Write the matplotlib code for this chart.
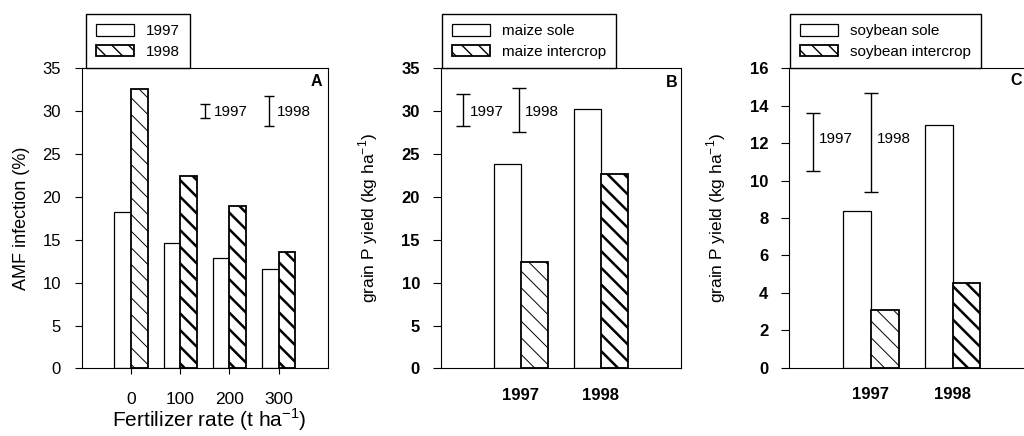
import numpy as np
import matplotlib.pyplot as plt

plt.rcParams['font.family'] = ['Liberation Sans', 'DejaVu Sans']
plt.rcParams['hatch.color'] = 'black'

# A: AMF infection vs fertilizer rate
rates = ['0', '100', '200', '300']
amf_1997 = [18.3, 14.6, 12.9, 11.6]
amf_1998 = [32.6, 22.4, 18.9, 13.6]
lsd_a = [1.7, 3.5]

# B: maize grain P yield
years = ['1997', '1998']
maize_sole = [23.9, 30.3]
maize_inter = [12.4, 22.7]
lsd_b = [3.8, 5.2]

# C: soybean grain P yield
soy_sole = [8.4, 13.0]
soy_inter = [3.1, 4.5]
lsd_c = [3.1, 5.3]

lsd_labels = ['1997', '1998']


def pair_bars(ax, v1, v2, lab1, lab2):
    x = np.arange(len(v1))
    w = 0.34
    ax.bar(x - w/2, v1, w, color='white', edgecolor='black', lw=0.9,
           label=lab1, zorder=2)
    bars = ax.bar(x + w/2, v2, w, color='white', edgecolor='black', lw=1.3,
                  hatch='\\\\', label=lab2, zorder=2)
    for i, b in enumerate(bars):
        if hasattr(b, 'set_hatch_linewidth'):
            b.set_hatch_linewidth(0.7 if i == 0 else 1.8)
    return x


def lsd(ax, xs, yc, vals, tx, ty, cap, fs=11):
    for x, v, t, lab in zip(xs, vals, tx, lsd_labels):
        ax.errorbar(x, yc, yerr=v/2, fmt='none', ecolor='black',
                    elinewidth=1, capsize=cap, capthick=1)
        ax.text(t, ty, lab, fontsize=fs, va='center', ha='left')


def legend(ax, x0, fs):
    ax.legend(loc='lower left', bbox_to_anchor=(x0, 1.0), fancybox=False,
              edgecolor='black', framealpha=1, fontsize=fs, handlelength=2.5,
              handleheight=0.75, borderaxespad=0, labelspacing=0.4,
              borderpad=0.65, handletextpad=0.8)


fig = plt.figure(figsize=(10.24, 4.36), dpi=100)

# ---------------- panel A
ax = fig.add_axes([0.080, 0.155, 0.240, 0.688])
x = pair_bars(ax, amf_1997, amf_1998, '1997', '1998')
ax.set_xlim(-1, 4)
ax.set_ylim(0, 35)
ax.set_yticks(np.arange(0, 36, 5))
ax.set_xticks(x)
ax.set_xticklabels(rates)
ax.tick_params(axis='x', length=4, pad=13, labelsize=12.5)
ax.tick_params(axis='y', length=5, pad=10, labelsize=12)
ax.set_ylabel('AMF infection (%)', fontsize=13)
ax.yaxis.set_label_coords(-0.21, 0.5)
ax.set_xlabel(r'Fertilizer rate (t ha$^{\mathregular{-1}}$)', fontsize=15)
ax.xaxis.set_label_coords(0.52, -0.125)
ax.text(0.955, 0.955, 'A', transform=ax.transAxes, fontsize=11.5,
        fontweight='bold', ha='center', va='center')
lsd(ax, [1.51, 2.80], 30.05, lsd_a, [1.69, 2.96], 29.9, 3.5)
legend(ax, 0.016, 11)

# ---------------- panel B
ax = fig.add_axes([0.4304, 0.155, 0.2344, 0.688])
x = pair_bars(ax, maize_sole, maize_inter, 'maize sole', 'maize intercrop')
ax.set_xlim(-1, 2)
ax.set_ylim(0, 35)
ax.set_yticks(np.arange(0, 36, 5))
ax.set_xticks(x)
ax.set_xticklabels(years)
ax.tick_params(axis='x', length=0, pad=14, labelsize=12)
ax.tick_params(axis='y', length=6, pad=9, labelsize=12)
for t in ax.get_xticklabels() + ax.get_yticklabels():
    t.set_fontweight('bold')
ax.set_ylabel(r'grain P yield (kg ha$^{\mathregular{-1}}$)', fontsize=12.5)
ax.yaxis.set_label_coords(-0.253, 0.5)
ax.text(0.9625, 0.952, 'B', transform=ax.transAxes, fontsize=11.5,
        fontweight='bold', ha='center', va='center')
lsd(ax, [-0.72, -0.02], 30.15, lsd_b, [-0.63, 0.05], 29.9, 5)
legend(ax, 0.004, 11)

# ---------------- panel C
ax = fig.add_axes([0.7708, 0.157, 0.2393, 0.686])
x = pair_bars(ax, soy_sole, soy_inter, 'soybean sole', 'soybean intercrop')
ax.set_xlim(-1, 2)
ax.set_ylim(0, 16)
ax.set_yticks(np.arange(0, 17, 2))
ax.set_xticks(x)
ax.set_xticklabels(years)
ax.tick_params(axis='x', length=0, pad=14, labelsize=12)
ax.tick_params(axis='y', length=6, pad=9, labelsize=12)
for t in ax.get_xticklabels() + ax.get_yticklabels():
    t.set_fontweight('bold')
ax.set_ylabel(r'grain P yield (kg ha$^{\mathregular{-1}}$)', fontsize=12.5)
ax.yaxis.set_label_coords(-0.252, 0.5)
ax.text(0.926, 0.96, 'C', transform=ax.transAxes, fontsize=11.5,
        fontweight='bold', ha='center', va='center')
lsd(ax, [-0.71, 0.0], 12.05, lsd_c, [-0.64, 0.07], 12.2, 5)
legend(ax, 0.003, 11)

fig.savefig('out.png', dpi=100)
